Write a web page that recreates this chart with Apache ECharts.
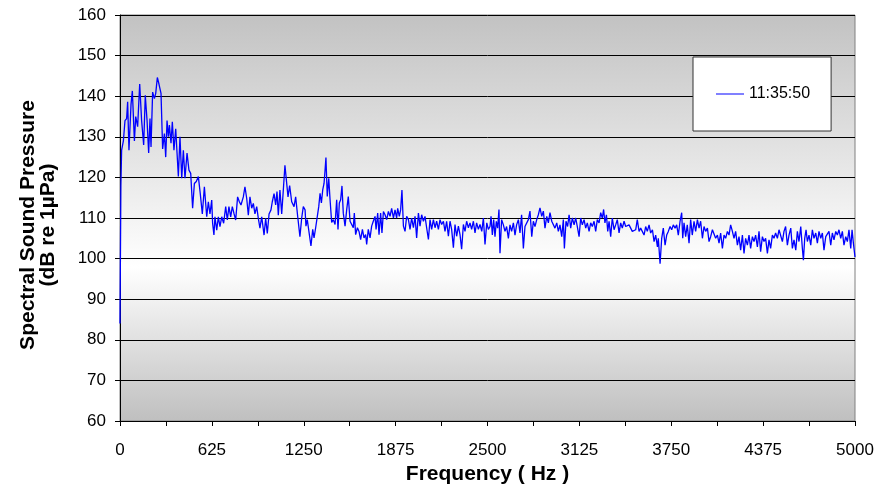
<!DOCTYPE html>
<html>
<head>
<meta charset="utf-8">
<script src="https://cdn.jsdelivr.net/npm/echarts@6/dist/echarts.min.js"></script>
<style>
html,body{margin:0;padding:0;background:#fff;}
#chart{width:892px;height:487px;}
</style>
</head>
<body>
<div id="chart"></div>
<script>
// Frequency (Hz) / spectral sound pressure (dB re 1µPa) pairs
const spectrumPoints = [
[0,84],[6,118],[11,126.7],[23,129],[34,134],[45,134.5],[52,138.6],[61,126.7],[75,138],[84,141.3],
[98,129],[107,135],[120,132.5],[134,143],[147,134],[161,128],[172,140.2],[184,134],[195,126],[204,134.5],
[211,127.5],[222,141],[234,139.4],[243,140.7],[254,144.6],[265,143],[279,140.7],[290,127],[302,130.8],[311,125],
[320,134],[329,130],[336,132.9],[347,128.4],[356,133.7],[367,126.7],[379,132],[388,126],[397,120.2],[408,130],
[420,119.8],[431,126.7],[442,119.8],[456,126],[469,121.8],[481,121],[494,112.4],[506,118.5],[519,119],[533,120.2],
[546,116],[560,111],[574,117.7],[590,110.3],[601,114],[612,111],[624,114.4],[630,108.7],[639,105.8],[646,110.3],
[658,107],[669,110.3],[680,107.9],[692,110.3],[705,108.7],[719,112.8],[730,109.5],[741,112.8],[753,110.3],[764,112.8],
[776,111],[787,109.5],[800,115.2],[812,114],[823,113.2],[839,115.2],[850,117.7],[862,114.8],[873,110.7],[884,115.2],
[896,112.4],[907,113.6],[918,111],[930,112.8],[941,109.9],[952,107.5],[964,110.3],[980,105.8],[991,109.9],[1002,106.2],
[1014,111],[1027,112],[1036,114],[1048,116],[1059,113.2],[1068,116.5],[1077,110.7],[1088,116.9],[1100,111],[1111,116.9],
[1122,123],[1132,122.6],[1143,115.2],[1154,118],[1168,114],[1184,112.8],[1195,115.2],[1209,110.3],[1224,105.4],
[1236,110],[1247,112.8],[1259,112],[1265,108],[1274,109.6],[1286,109.2],[1299,103.1],[1311,107.2],[1320,105.1],[1331,107.6],
[1342,108],[1352,112.8],[1361,116.1],[1370,113.7],[1379,116.9],[1388,118.5],[1395,121.8],[1401,124.9],[1410,115.3],[1420,119.8],
[1429,114.5],[1440,108.9],[1451,109.6],[1463,108.4],[1474,114.5],[1483,107.2],[1492,113.7],[1501,114.5],[1510,117.9],[1519,111.2],
[1531,108],[1542,112],[1553,115.3],[1565,109.2],[1576,108.4],[1587,107.6],[1594,111.2],[1603,105.9],[1615,107.6],[1626,106.7],
[1637,104.7],[1649,107.2],[1660,105.1],[1671,105.9],[1678,103.5],[1689,107.2],[1701,105.1],[1712,108],[1723,109.2],[1735,110.4],
[1742,107.2],[1753,111.2],[1762,105.9],[1773,111.2],[1782,106.3],[1792,111.6],[1803,110.8],[1814,109.6],[1826,111.6],[1837,110.4],
[1848,112.4],[1860,110],[1871,112],[1882,110],[1889,112.4],[1900,110.4],[1909,112],[1918,116.9],[1928,108],[1939,106.7],
[1950,110.4],[1962,109.6],[1973,107.2],[1984,110],[1996,107.6],[2007,110.4],[2018,105.1],[2030,111.2],[2041,108],[2052,110.8],
[2064,109.2],[2075,110.4],[2086,107.6],[2098,104.7],[2109,109.6],[2120,107.2],[2132,109.6],[2143,107.6],[2154,109.2],[2166,107.2],
[2177,109.6],[2188,108.4],[2200,109.2],[2211,106.7],[2222,109.2],[2234,105.5],[2245,109.2],[2256,107.2],[2268,102.7],[2279,108.4],
[2290,105.5],[2302,108],[2313,105.9],[2324,102.3],[2336,108.4],[2347,106.7],[2358,109.2],[2370,107.6],[2381,108.8],[2392,107.2],
[2404,109.2],[2415,106.3],[2426,108.8],[2438,107.2],[2449,108.4],[2461,106.7],[2472,110],[2483,103.5],[2495,108.8],[2506,107.2],
[2517,107.9],[2524,110.4],[2533,105.8],[2542,109.6],[2551,105.4],[2560,109.2],[2569,107.5],[2578,112.1],[2585,101.3],[2596,109.6],
[2608,108.3],[2619,106.7],[2630,107.9],[2642,105],[2653,108.3],[2664,106.7],[2676,108.8],[2687,105.8],[2698,108.3],[2710,109.6],
[2721,106.3],[2732,110.8],[2744,102.5],[2755,107.9],[2766,107.5],[2778,109.6],[2789,111.7],[2801,105.4],[2812,109.2],[2823,107.9],
[2835,109.6],[2846,110.8],[2857,112.5],[2869,110.4],[2880,111.7],[2891,107.5],[2903,110.4],[2914,108.8],[2925,111.3],[2937,109.2],
[2948,109.6],[2959,107.5],[2971,108.8],[2982,106.7],[2993,108.3],[3005,105.4],[3016,109.6],[3023,102.5],[3034,109.2],[3045,107.9],
[3055,110.8],[3066,107.5],[3077,110],[3089,108.3],[3100,110],[3111,107.9],[3123,105.4],[3134,110],[3145,108.3],[3157,109.6],
[3168,107.5],[3179,108.8],[3191,106.7],[3202,108.8],[3213,107.9],[3225,109.2],[3236,106.7],[3247,109.6],[3259,108.8],[3270,111.3],
[3281,110],[3290,112.1],[3299,108.8],[3309,110.8],[3318,106.7],[3327,109.2],[3338,105.4],[3349,110],[3361,107.1],[3372,108.3],
[3383,109.6],[3395,106.3],[3406,108.8],[3417,107.5],[3429,109.2],[3440,107.9],[3451,107.5],[3463,108.3],[3474,107.5],[3485,106.7],
[3497,106.3],[3508,107.1],[3519,109.6],[3531,106.7],[3542,107.5],[3553,107.1],[3565,105.8],[3576,107.9],[3587,106.7],[3599,108.3],
[3610,106.3],[3622,107.1],[3633,104.2],[3644,105.8],[3656,102.9],[3662,105],[3674,98.75],[3685,105],[3696,107.5],[3708,103.3],
[3719,105.8],[3730,106.7],[3742,107.9],[3753,107.1],[3764,108.3],[3776,107.5],
[3787,108.3],[3798,105.8],[3810,109.2],[3821,111.3],[3828,105],[3837,108.8],[3848,105.4],[3859,108.3],[3871,103.8],[3882,109.6],
[3893,105.8],[3905,109.2],[3916,106.7],[3928,109.6],[3939,107.5],[3950,109.2],[3962,105],[3973,107.9],[3984,106.7],[3996,107.5],
[4007,104.2],[4018,105.4],[4030,107.1],[4041,107.5],[4052,105],[4064,105.8],[4075,103.8],[4086,106.3],[4098,102.5],[4109,105.8],
[4120,105],[4132,106.7],[4143,105.8],[4154,108.3],[4166,106.7],[4177,105],[4188,106.7],[4200,103.3],[4211,105.4],[4222,102.1],
[4234,105.8],[4245,101.3],[4256,105],[4268,103.3],[4279,105.8],[4290,102.5],[4302,105.4],[4313,104.2],[4324,105.8],[4336,102.9],
[4347,106.7],[4358,101.7],[4370,105.4],[4381,104.2],[4392,105],[4404,101.3],[4415,104.6],[4426,102.5],[4438,105.8],[4449,105],
[4460,106.3],[4472,105],[4483,107.1],[4494,107.5],[4506,104.2],[4517,106.7],[4528,107.9],[4540,103.3],[4551,105.8],[4563,107.5],
[4574,102.5],[4585,104.6],[4597,102.1],[4608,106.7],[4619,104.2],[4631,107.9],[4642,102.5],[4649,99.6],[4658,105],[4667,107.1],
[4676,104.2],[4687,105.8],[4699,103.3],[4710,107.1],[4721,105],[4733,106.3],[4744,103.8],[4755,106.7],[4767,105],[4778,106.3],
[4789,102.1],[4801,105.4],[4812,105],[4823,106.7],[4835,103.3],[4846,106.3],[4857,104.6],[4869,106.7],[4880,105.8],[4891,107.1],
[4903,105],[4914,106.7],[4925,103.3],[4937,105.4],[4948,104.2],[4959,107.1],[4971,102.5],[4980,107.1],[4989,103.8],[5000,100.4]
];
const seriesName = '11:35:50';
const xLabelValues = [0, 625, 1250, 1875, 2500, 3125, 3750, 4375, 5000];
const yMin = 60, yMax = 160, yStep = 10;
const xMin = 0, xMax = 5000, xTickStep = 312.5;

const chart = echarts.init(document.getElementById('chart'), null, {renderer: 'canvas'});
const FONT = '"Liberation Sans", Arial, sans-serif';
chart.setOption({
  animation: false,
  backgroundColor: '#ffffff',
  grid: {
    left: 120, right: 37, top: 15, bottom: 66,
    containLabel: false,
    outerBoundsMode: 'none',
    show: true,
    borderColor: '#808080', borderWidth: 1,
    backgroundColor: new echarts.graphic.LinearGradient(0, 0, 0, 1, [
      {offset: 0, color: '#c2c2c2'},
      {offset: 0.62, color: '#ffffff'},
      {offset: 1, color: '#bfbfbf'}
    ])
  },
  legend: {
    data: [seriesName],
    left: 693, top: 57,
    orient: 'vertical',
    padding: [29, 21, 29, 23],
    backgroundColor: '#ffffff',
    borderColor: '#333333', borderWidth: 1,
    itemWidth: 28, itemHeight: 1,
    icon: 'rect',
    textStyle: {fontFamily: FONT, fontSize: 16, color: '#000'}
  },
  xAxis: {
    type: 'value', min: xMin, max: xMax, interval: xTickStep,
    name: 'Frequency ( Hz )', nameLocation: 'middle', nameGap: 36,
    nameTextStyle: {fontFamily: FONT, fontSize: 21, fontWeight: 'bold', color: '#000'},
    axisLine: {show: true, lineStyle: {color: '#000', width: 1}},
    axisTick: {show: true, length: 5, lineStyle: {color: '#000'}},
    axisLabel: {
      fontFamily: FONT, fontSize: 17, color: '#000', margin: 21,
      showMinLabel: true, showMaxLabel: true,
      formatter: v => (xLabelValues.indexOf(v) >= 0 ? String(v) : '')
    },
    splitLine: {show: false}
  },
  yAxis: {
    type: 'value', min: yMin, max: yMax, interval: yStep,
    name: 'Spectral Sound Pressure\n(dB re 1µPa)', nameLocation: 'middle', nameGap: 62,
    nameTextStyle: {fontFamily: FONT, fontSize: 21, fontWeight: 'bold', color: '#000', lineHeight: 20, padding: [0, 14, 0, 0]},
    axisLine: {show: true, lineStyle: {color: '#000', width: 1}},
    axisTick: {show: true, length: 5, lineStyle: {color: '#000'}},
    axisLabel: {fontFamily: FONT, fontSize: 17, color: '#000', margin: 14},
    splitLine: {show: true, lineStyle: {color: '#000', width: 1}}
  },
  series: [{
    name: seriesName,
    type: 'line',
    data: spectrumPoints,
    showSymbol: false,
    symbol: 'none',
    lineStyle: {color: '#0000ff', width: 1.3},
    itemStyle: {color: '#0000ff'}
  }]
});
</script>
</body>
</html>
